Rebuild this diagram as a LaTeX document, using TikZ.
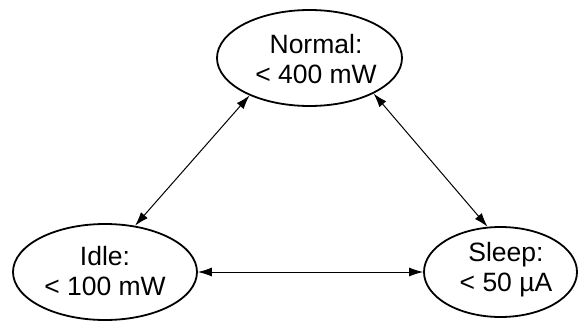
\documentclass[tikz,border=0pt]{standalone}
\usepackage{fontspec}
\setmainfont{Liberation Sans}
\usetikzlibrary{shapes.geometric,arrows.meta}
\begin{document}
\begin{tikzpicture}[x=1pt,y=1pt,
  state/.style={ellipse, draw, line width=1.8pt, inner sep=0pt},
  statetext/.style={align=center, inner sep=0pt,
    font=\fontsize{26.5}{30}\selectfont},
  link/.style={line width=1pt,
    {Latex[length=14pt,width=9pt]}-{Latex[length=14pt,width=9pt]}}]
\useasboundingbox (0,0) rectangle (578,322);
% power states
\node[state, minimum width=185pt, minimum height=96pt] (normal) at (309.5,264) {};
\node[state, minimum width=184pt, minimum height=96pt] (idle) at (105,50) {};
\node[state, minimum width=153pt, minimum height=90pt] (sleep) at (500.5,50) {};
\node[statetext] (normaltxt) at (316,263) {Normal:\\< 400 mW};
\node[statetext] (idletxt) at (105,51) {Idle:\\< 100 mW};
\node[statetext] (sleeptxt) at (506,52) {Sleep:\\< 50 µA};
% transitions
\draw[link] (normal.212.5) -- (idle.57.5);
\draw[link] (normal.331) -- (sleep.106.7);
\draw[link] (idle.east) -- (sleep.west);
\end{tikzpicture}
\end{document}
